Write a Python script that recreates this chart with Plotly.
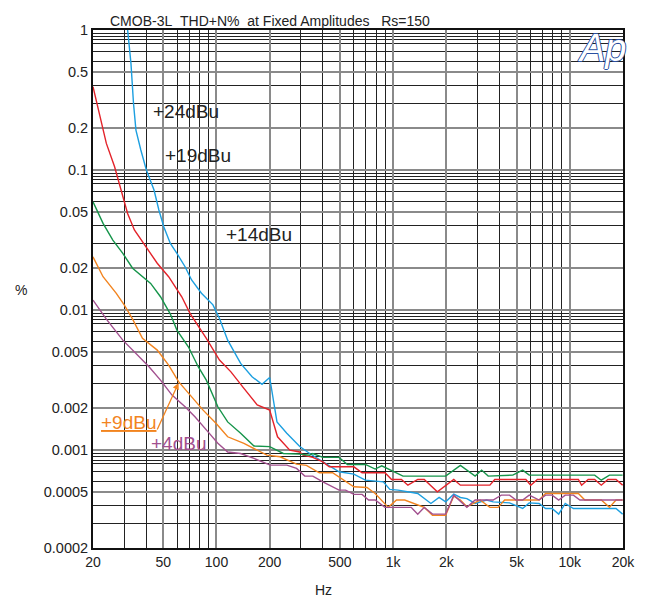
import plotly.graph_objects as go

# ---- data (Hz, THD+N %) ----
f_24 = [30.5, 31.4, 32.8, 33.9, 35.0, 37.3, 40.1, 44.3, 47.2, 50.3, 54.8, 59.7, 66.4, 72.3, 82.2, 95.5, 104, 115.7,
        137, 159, 181, 200, 220, 250, 296, 337, 400, 494, 599, 696, 880, 958, 1066, 1378, 1636, 1820, 1982, 2204,
        2402, 2614, 2911, 3378, 3680, 4560, 5408, 5890, 6700, 7290, 7940, 8650, 9420, 10480, 13250, 18260, 19900]
v_24 = [1.45, 1.0, 0.578, 0.30, 0.193, 0.139, 0.100, 0.072, 0.0518, 0.0394, 0.0299, 0.0254, 0.0204, 0.0164, 0.0132,
        0.0109, 0.0087, 0.0061, 0.00416, 0.00334, 0.00295, 0.0033, 0.00159, 0.00132, 0.00106, 0.000946, 0.000824,
        0.0007, 0.000674, 0.00061, 0.000594, 0.000524, 0.000518, 0.00049, 0.000416, 0.00046, 0.000427, 0.000485,
        0.000459, 0.000451, 0.000416, 0.00044, 0.000427, 0.00042, 0.000383, 0.00042, 0.000416, 0.000383, 0.000383,
        0.000349, 0.000416, 0.000383, 0.000383, 0.000383, 0.000349]

f_19 = [20, 21.9, 23.8, 26.5, 29.5, 31.4, 34.3, 39.8, 46.2, 53.6, 63.6, 70.8, 87.6, 104, 120.7, 143, 170, 200, 221.6,
        260, 296, 309, 351, 400, 435, 599, 667, 899, 980, 1114, 1212, 1378, 1500, 1779, 2204, 2402, 3528, 3760, 5638,
        6012, 6550, 11180, 11660, 12700, 13830, 15070, 16420, 18260, 19900]
v_19 = [0.394, 0.240, 0.155, 0.1056, 0.0645, 0.049, 0.0373, 0.0283, 0.0216, 0.0173, 0.01245, 0.00947, 0.00628, 0.0044,
        0.00362, 0.00276, 0.0021, 0.00193, 0.001245, 0.001, 0.00097, 0.00092, 0.000887, 0.000824, 0.00076, 0.00076,
        0.000689, 0.000689, 0.000617, 0.000617, 0.000562, 0.000617, 0.000617, 0.000504, 0.000617, 0.000562,
        0.000562, 0.000617, 0.000617, 0.000562, 0.000617, 0.000617, 0.000562, 0.000617, 0.000617, 0.000562,
        0.000617, 0.000617, 0.000562]

f_14 = [20, 22.8, 25.9, 29.5, 33.5, 38.1, 42.4, 48.2, 54.8, 59.7, 69.3, 78.8, 87.6, 101.8, 115.7, 137, 163, 200, 239,
        296, 337, 351, 400, 494, 551, 696, 791, 862, 958, 1137, 1982, 2402, 2911, 3168, 3452, 4756, 5408, 5890,
        13830, 15070, 16760, 19900]
v_14 = [0.0594, 0.0416, 0.0316, 0.0254, 0.0199, 0.0173, 0.0155, 0.01245, 0.00936, 0.0072, 0.00547, 0.00394, 0.00316,
        0.00204, 0.00159, 0.00132, 0.00107, 0.00106, 0.000946, 0.000936, 0.00092, 0.000946, 0.000887, 0.000887,
        0.00079, 0.00079, 0.000732, 0.000773, 0.000727, 0.000652, 0.000652, 0.000778, 0.000652, 0.00072, 0.000652,
        0.000663, 0.00072, 0.000663, 0.000663, 0.00061, 0.000663, 0.000663]

f_9 = [20, 22.8, 27.1, 30.1, 33.5, 38.1, 46.2, 53.6, 61, 69.3, 84, 99.6, 115.7, 143, 193, 229, 284, 323, 382, 454,
       599, 711, 791, 938, 1045, 1162, 1500, 1670, 1982, 2204, 2402, 2614, 3104, 3528, 3926, 4276, 6700, 7290,
       11180, 12160, 15070, 16760, 18260, 19900]
v_9 = [0.024, 0.0173, 0.01316, 0.01086, 0.00862, 0.00628, 0.00518, 0.00405, 0.00308, 0.00254, 0.00193, 0.00155,
       0.001245, 0.001116, 0.00092, 0.000896, 0.000794, 0.000778, 0.000689, 0.000689, 0.000547, 0.000541, 0.00049,
       0.00039, 0.00044, 0.00044, 0.00039, 0.000343, 0.000343, 0.00047, 0.00044, 0.000394, 0.00044, 0.00039,
       0.00039, 0.00044, 0.00044, 0.00049, 0.00049, 0.00044, 0.00044, 0.00039, 0.00044, 0.00044]

f_4 = [20, 23.8, 29.5, 35.0, 41.5, 48.2, 56.0, 66.4, 75.5, 89.6, 101.8, 115.7, 137, 163, 201.5, 250, 284, 316, 351,
       400, 494, 538, 599, 667, 726, 791, 899, 1265, 1378, 1500, 1670, 1982, 2204, 2614, 2911, 3680, 4094, 4560,
       4962, 5408, 5890, 6700, 7290, 7940, 8650, 9420, 10480, 11400, 18260, 19900]
v_4 = [0.01179, 0.00862, 0.0061, 0.00491, 0.00394, 0.00316, 0.00247, 0.00204, 0.00173, 0.00135, 0.00112, 0.00097,
       0.000946, 0.000873, 0.000781, 0.000781, 0.00074, 0.000652, 0.000652, 0.000594, 0.000518, 0.000518, 0.000483,
       0.000483, 0.00044, 0.00044, 0.00039, 0.00039, 0.000349, 0.00039, 0.000349, 0.000349, 0.000477, 0.00039,
       0.00044, 0.00044, 0.000477, 0.000477, 0.00044, 0.00044, 0.000477, 0.00044, 0.000477, 0.000477, 0.00044,
       0.000477, 0.000477, 0.00044, 0.00044, 0.00044]

x_tickvals = [20, 50, 100, 200, 500, 1000, 2000, 5000, 10000, 20000]
x_ticktext = ["20", "50", "100", "200", "500", "1k", "2k", "5k", "10k", "20k"]
x_minor = [30, 40, 60, 70, 80, 90, 300, 400, 600, 700, 800, 900,
           3000, 4000, 6000, 7000, 8000, 9000]
y_tickvals = [0.0002, 0.0005, 0.001, 0.002, 0.005, 0.01, 0.02, 0.05, 0.1, 0.2, 0.5, 1]
y_ticktext = ["0.0002", "0.0005", "0.001", "0.002", "0.005", "0.01", "0.02", "0.05", "0.1", "0.2", "0.5", "1"]
y_minor = [d * m for d in (0.0001, 0.001, 0.01, 0.1) for m in (3, 4, 6, 7, 8, 8.5, 9, 9.5)]

FONT = "Liberation Sans, Arial, sans-serif"

series = [
    (f_24, v_24, "#1c9fe0", "+24dBu"),
    (f_19, v_19, "#e3232a", "+19dBu"),
    (f_14, v_14, "#15944a", "+14dBu"),
    (f_9, v_9, "#f2841f", "+9dBu"),
    (f_4, v_4, "#a2508f", "+4dBu"),
]

fig = go.Figure()
for fx, vy, col, name in series:
    fig.add_trace(go.Scatter(x=fx, y=vy, mode="lines", name=name,
                             line=dict(color=col, width=1.4), showlegend=False))

fig.update_layout(
    width=647, height=602,
    margin=dict(l=93, r=15, t=30, b=54),
    paper_bgcolor="white", plot_bgcolor="white",
    font=dict(family=FONT, size=14, color="#222"),
)
fig.update_xaxes(
    type="log", range=[1.30103, 4.30103],
    tickmode="array", tickvals=x_tickvals, ticktext=x_ticktext,
    ticks="", showgrid=True, gridcolor="#8a8a8a", gridwidth=1.5,
    minor=dict(tickmode="array", tickvals=x_minor, showgrid=True, gridcolor="#222", gridwidth=1, ticks=""),
    showline=True, mirror=True, linecolor="#111", linewidth=2,
    tickfont=dict(size=14, color="#222"), zeroline=False,
)
fig.update_yaxes(
    type="log", range=[-3.69897, 0],
    tickmode="array", tickvals=y_tickvals, ticktext=y_ticktext,
    ticks="", showgrid=True, gridcolor="#8a8a8a", gridwidth=1.5,
    minor=dict(tickmode="array", tickvals=y_minor, showgrid=True, gridcolor="#222", gridwidth=1, ticks=""),
    showline=True, mirror=True, linecolor="#111", linewidth=2,
    tickfont=dict(size=14.5, color="#222"), zeroline=False,
)

def px(xp):
    return (xp - 93) / 539.0

def py(yp):
    return (548 - yp) / 518.0

def label(text, xp, yp, size, color, **fontkw):
    return dict(text=text, x=px(xp), y=py(yp), xref="paper", yref="paper",
                xanchor="center", yanchor="middle", showarrow=False,
                font=dict(size=size, color=color, **fontkw))

ann = []
ann.append(dict(text="CMOB-3L\u00a0\u00a0THD+N%\u00a0\u00a0at Fixed Amplitudes\u00a0\u00a0\u00a0Rs=150",
                x=px(108), y=py(21), xref="paper", yref="paper", xanchor="left", yanchor="middle",
                showarrow=False, font=dict(size=14, color="#222")))
ann.append(label("%", 20, 290, 14, "#222"))
ann.append(label("Hz", 327, 590, 14, "#222"))
ann.append(label("+24dBu", 188, 111, 19, "#222"))
ann.append(label("+19dBu", 199.5, 156, 19, "#222"))
ann.append(label("+14dBu", 262, 234, 19, "#222"))
ann.append(label("+9dBu", 129, 422, 19, "#f2841f", lineposition="under"))
ann.append(label("+4dBu", 179.5, 443, 19, "#a2508f"))
ann.append(dict(text="", x=px(180), y=py(383), xref="paper", yref="paper", showarrow=True,
                ax=-22, ay=48, arrowhead=2, arrowsize=1, arrowwidth=1.3, arrowcolor="#f2841f",
                standoff=0, startstandoff=0))
ann.append(label("Ap", 611, 48, 38, "white", style="italic", family=FONT,
                 shadow="1px 0 0 #2a4fa0, -1px 0 0 #2a4fa0, 0 1px 0 #2a4fa0, 0 -1px 0 #2a4fa0"))
fig.update_layout(annotations=ann)

fig.write_html("out.html", config={"displayModeBar": False},
               post_script="document.body.style.margin='0';document.body.style.overflow='hidden';")
